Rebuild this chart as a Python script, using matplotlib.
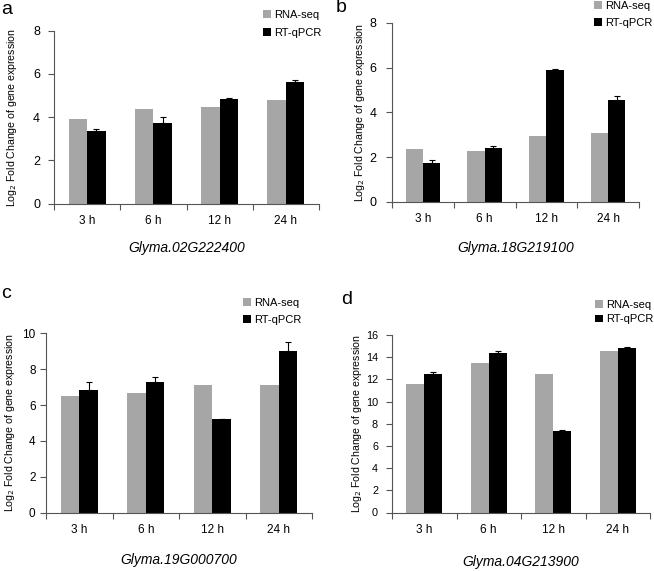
import matplotlib
matplotlib.use("Agg")
import matplotlib.pyplot as plt
from matplotlib.patches import Patch
import numpy as np

plt.rcParams['font.family'] = ['Liberation Sans', 'DejaVu Sans']

categories = ["3 h", "6 h", "12 h", "24 h"]

genes = ["Glyma.02G222400", "Glyma.18G219100", "Glyma.19G000700", "Glyma.04G213900"]
panel_labels = ["a", "b", "c", "d"]

rnaseq_a = [3.90, 4.38, 4.46, 4.80]
qpcr_a = [3.37, 3.72, 4.86, 5.63]
err_a = [0.07, 0.27, 0.05, 0.07]

rnaseq_b = [2.38, 2.27, 2.96, 3.09]
qpcr_b = [1.73, 2.42, 5.89, 4.55]
err_b = [0.14, 0.08, 0.04, 0.16]

rnaseq_c = [6.48, 6.70, 7.13, 7.13]
qpcr_c = [6.83, 7.28, 5.20, 9.00]
err_c = [0.47, 0.28, 0.04, 0.50]

rnaseq_d = [11.59, 13.45, 12.49, 14.53]
qpcr_d = [12.46, 14.41, 7.36, 14.86]
err_d = [0.18, 0.15, 0.12, 0.09]

ymax = [8, 8, 10, 16]
ystep = [2, 2, 2, 2]

W, H = 654, 571
fig = plt.figure(figsize=(W / 100, H / 100), dpi=100)

# axes boxes in pixels: left, right, top, bottom
boxes = [(54, 319, 30.7, 203.7), (392, 639, 22.7, 202), (46, 312, 333.3, 512.7), (392, 650, 335, 512.5)]
legend_pos = [(263, 10), (594, 1), (243, 298), (595, 300)]
legend_spacing = [0.7, 0.6, 0.65, 0.4]
xlabel_y = [248, 248, 560, 562]
label_pos = [(1, 9), (336, 7), (1, 293), (341, 300)]
ytick_fs = [9, 9, 8.5, 7.8]
ytick_pad = [6, 7, 3.5, 6]
ylabel_x = [12.5, 360, 10, 356.5]

data = [(rnaseq_a, qpcr_a, err_a), (rnaseq_b, qpcr_b, err_b),
        (rnaseq_c, qpcr_c, err_c), (rnaseq_d, qpcr_d, err_d)]

gray = '#a6a6a6'
axcol = '#555555'
bw = 0.28

for i in range(4):
    l, r, t, b = boxes[i]
    ax = fig.add_axes([l / W, (H - b) / H, (r - l) / W, (b - t) / H])
    rs, qp, er = data[i]
    x = np.arange(4) + 0.5
    ax.bar(x - bw / 2, rs, width=bw, color=gray, edgecolor='none', zorder=2)
    ax.bar(x + bw / 2, qp, width=bw, color='black', edgecolor='none', zorder=2)
    ax.errorbar(x + bw / 2, qp, yerr=[np.zeros(4), er], fmt='none', ecolor='black',
                elinewidth=0.8, capsize=2.5, capthick=0.8, zorder=3)
    ax.set_xlim(0, 4)
    ax.set_ylim(0, ymax[i])
    ax.set_yticks(np.arange(0, ymax[i] + 0.1, ystep[i]))
    ax.set_xticks(np.arange(5))
    ax.set_xticklabels([])
    ax.set_xticks(x, minor=True)
    ax.set_xticklabels(categories, minor=True, fontsize=8.5)
    ax.tick_params(axis='x', which='major', direction='out', length=4, color=axcol, width=0.8)
    ax.tick_params(axis='x', which='minor', length=0, pad=8)
    ax.tick_params(axis='y', direction='out', length=4, color=axcol, width=0.8,
                   labelsize=ytick_fs[i], pad=ytick_pad[i])
    for s in ['top', 'right']:
        ax.spines[s].set_visible(False)
    for s in ['left', 'bottom']:
        ax.spines[s].set_color(axcol)
        ax.spines[s].set_linewidth(0.8)
    ax.set_ylabel('Log$_2$ Fold Change of gene expression', fontsize=7.6, va='center')
    ax.yaxis.set_label_coords((ylabel_x[i] - l) / (r - l), 0.5)
    cx = (l + r) / 2
    fig.text(cx / W, 1 - xlabel_y[i] / H, genes[i], fontsize=10, style='italic',
             ha='center', va='center')
    fig.text(label_pos[i][0] / W, 1 - label_pos[i][1] / H, panel_labels[i], fontsize=14,
             ha='left', va='center')
    handles = [Patch(facecolor=gray, edgecolor='none', label='RNA-seq'),
               Patch(facecolor='black', edgecolor='none', label='RT-qPCR')]
    lx, ly = legend_pos[i]
    fig.legend(handles=handles, loc='upper left', bbox_to_anchor=(lx / W, 1 - ly / H),
               frameon=False, fontsize=8, handlelength=0.7, handleheight=0.7,
               handletextpad=0.3, labelspacing=legend_spacing[i], borderpad=0, borderaxespad=0)

fig.savefig('out.png', dpi=100)
